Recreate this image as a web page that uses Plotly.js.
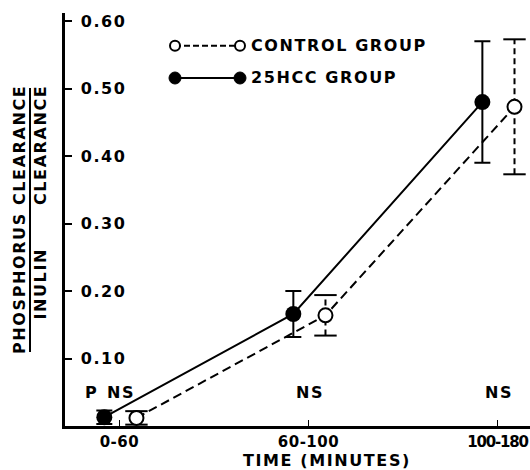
<!DOCTYPE html>
<html>
<head>
<meta charset="utf-8">
<script src="https://cdn.plot.ly/plotly-3.0.1.min.js"></script>
<style>
html, body { margin: 0; padding: 0; background: #fff; }
#chart { width: 530px; height: 470px; }
.xtick text { letter-spacing: 0.5px; }
.xtick:last-of-type text { letter-spacing: -1.2px; }
.ytick text { letter-spacing: 1.5px; }
.annotation-text { letter-spacing: 1.6px; }
</style>
</head>
<body>
<div id="chart"></div>
<script>
// ---- data ----
const categories = ['0-60', '60-100', '100-180'];
const controlMean = [0.012, 0.164, 0.473];
const controlErr  = [0.010, 0.030, 0.100];
const hccMean     = [0.013, 0.166, 0.480];
const hccErr      = [0.010, 0.034, 0.090];
const seriesNames = ['CONTROL GROUP', '25HCC GROUP'];
const significance = ['NS', 'NS', 'NS'];
const pLabel = 'P';
const yTickVals = [0.1, 0.2, 0.3, 0.4, 0.5, 0.6];
const yTickText = ['0.10', '0.20', '0.30', '0.40', '0.50', '0.60'];
const yTitleTop = 'PHOSPHORUS CLEARANCE';
const yTitleBottomLeft = 'INULIN';
const yTitleBottomRight = 'CLEARANCE';
const xTitle = 'TIME (MINUTES)';

// ---- layout constants ----
const W = 530, H = 470;
const M = { l: 65, r: 0, t: 13, b: 44 };
const PW = W - M.l - M.r, PH = H - M.t - M.b;
const px2x = p => (p - M.l) / PW;
const py2y = p => (H - M.b - p) / PH;
const ctrlOffset = 0.09, hccOffset = -0.08;
const FONT = 'DejaVu Sans';
const txt = { family: FONT, size: 16, color: '#000', weight: 'bold' };
const xtickFont = { family: FONT, size: 15, color: '#000', weight: 'bold' };

const idx = categories.map((c, i) => i);
const ctrlX = idx.map(i => i + ctrlOffset);
const hccX = idx.map(i => i + hccOffset);

// dashed error bars for control group (built from the data)
const ebX = [], ebY = [], capX = [], capY = [];
controlMean.forEach((m, i) => {
  ebX.push(ctrlX[i], ctrlX[i], null);
  ebY.push(m - controlErr[i], m + controlErr[i], null);
  capX.push(ctrlX[i], ctrlX[i]);
  capY.push(m - controlErr[i], m + controlErr[i]);
});

const traces = [
  { x: ebX, y: ebY, mode: 'lines', showlegend: false, hoverinfo: 'skip',
    line: { color: '#000', width: 2, dash: '6px,4px' } },
  { x: capX, y: capY, mode: 'markers', showlegend: false, hoverinfo: 'skip',
    marker: { symbol: 'line-ew', size: 16, color: '#000', line: { color: '#000', width: 2 } } },
  { name: seriesNames[0], x: ctrlX, y: controlMean, mode: 'lines+markers',
    line: { color: '#000', width: 2, dash: '9px,5px' },
    marker: { symbol: 'circle', size: 14, color: '#fff', line: { color: '#000', width: 2 } } },
  { name: seriesNames[1], x: hccX, y: hccMean, mode: 'lines+markers',
    line: { color: '#000', width: 2 },
    marker: { symbol: 'circle', size: 16, color: '#000' },
    error_y: { type: 'data', array: hccErr, visible: true, color: '#000', thickness: 2, width: 8 } }
];

const annotations = [];
significance.forEach((s, i) => {
  annotations.push({ x: i, y: 0.049, xref: 'x', yref: 'y', text: s, showarrow: false,
    font: txt, xanchor: 'center', yanchor: 'middle', xshift: 2 });
});
annotations.push({ x: 0, y: 0.049, xref: 'x', yref: 'y', text: pLabel, showarrow: false,
  font: txt, xanchor: 'center', yanchor: 'middle', xshift: -28 });
// x-axis title
annotations.push({ x: px2x(327), y: py2y(460), xref: 'paper', yref: 'paper', text: xTitle,
  showarrow: false, font: txt, xanchor: 'center', yanchor: 'middle' });
// y-axis title (fraction)
const nb = '\u00a0'.repeat(6);
annotations.push({ x: px2x(30), y: py2y(220), xref: 'paper', yref: 'paper',
  text: yTitleTop + '<br>' + yTitleBottomLeft + nb + yTitleBottomRight,
  textangle: -90, align: 'right', showarrow: false,
  font: { family: FONT, size: 16, color: '#000', weight: 'bold' },
  xanchor: 'center', yanchor: 'middle' });
// legend texts
const legendRows = [45.7, 78];
seriesNames.forEach((n, k) => {
  annotations.push({ x: px2x(249), y: py2y(legendRows[k]), xref: 'paper', yref: 'paper', text: n,
    showarrow: false, font: txt, xanchor: 'left', yanchor: 'middle' });
});

const shapes = [
  // fraction bar of y title
  { type: 'line', xref: 'paper', yref: 'paper', x0: px2x(30), x1: px2x(30), y0: py2y(88), y1: py2y(352),
    line: { color: '#000', width: 2 } },
  // legend row 1 (control)
  { type: 'line', xref: 'paper', yref: 'paper', x0: px2x(175), x1: px2x(240), y0: py2y(legendRows[0]), y1: py2y(legendRows[0]),
    line: { color: '#000', width: 2, dash: '6px,3px' } },
  // legend row 2 (25HCC)
  { type: 'line', xref: 'paper', yref: 'paper', x0: px2x(175), x1: px2x(240), y0: py2y(legendRows[1]), y1: py2y(legendRows[1]),
    line: { color: '#000', width: 2 } }
];
[175, 240].forEach(cx => {
  shapes.push({ type: 'circle', xref: 'paper', yref: 'paper', xsizemode: 'pixel', ysizemode: 'pixel',
    xanchor: px2x(cx), yanchor: py2y(legendRows[0]), x0: -5, x1: 5, y0: -5, y1: 5,
    fillcolor: '#fff', line: { color: '#000', width: 2 } });
  shapes.push({ type: 'circle', xref: 'paper', yref: 'paper', xsizemode: 'pixel', ysizemode: 'pixel',
    xanchor: px2x(cx), yanchor: py2y(legendRows[1]), x0: -6, x1: 6, y0: -6, y1: 6,
    fillcolor: '#000', line: { color: '#000', width: 1 } });
});

const layout = {
  width: W, height: H,
  margin: M,
  paper_bgcolor: '#fff', plot_bgcolor: '#fff',
  showlegend: false,
  font: txt,
  xaxis: {
    range: [-0.288, 2.172], tickvals: idx, ticktext: categories,
    showgrid: false, zeroline: false, showline: true, linewidth: 3, linecolor: '#000',
    ticks: 'inside', ticklen: 6, tickwidth: 1.5, tickcolor: '#000',
    ticklabeloverflow: 'allow', tickfont: xtickFont
  },
  yaxis: {
    range: [0, 0.612], tickvals: yTickVals, ticktext: yTickText,
    showgrid: false, zeroline: false, showline: true, linewidth: 3, linecolor: '#000',
    ticks: 'inside', ticklen: 7, tickwidth: 2, tickcolor: '#000',
    ticklabelposition: 'inside', ticklabeloverflow: 'allow', ticklabelstandoff: 9,
    tickfont: txt
  },
  annotations: annotations,
  shapes: shapes
};

Plotly.newPlot('chart', traces, layout, { staticPlot: true, displayModeBar: false });
</script>
</body>
</html>
